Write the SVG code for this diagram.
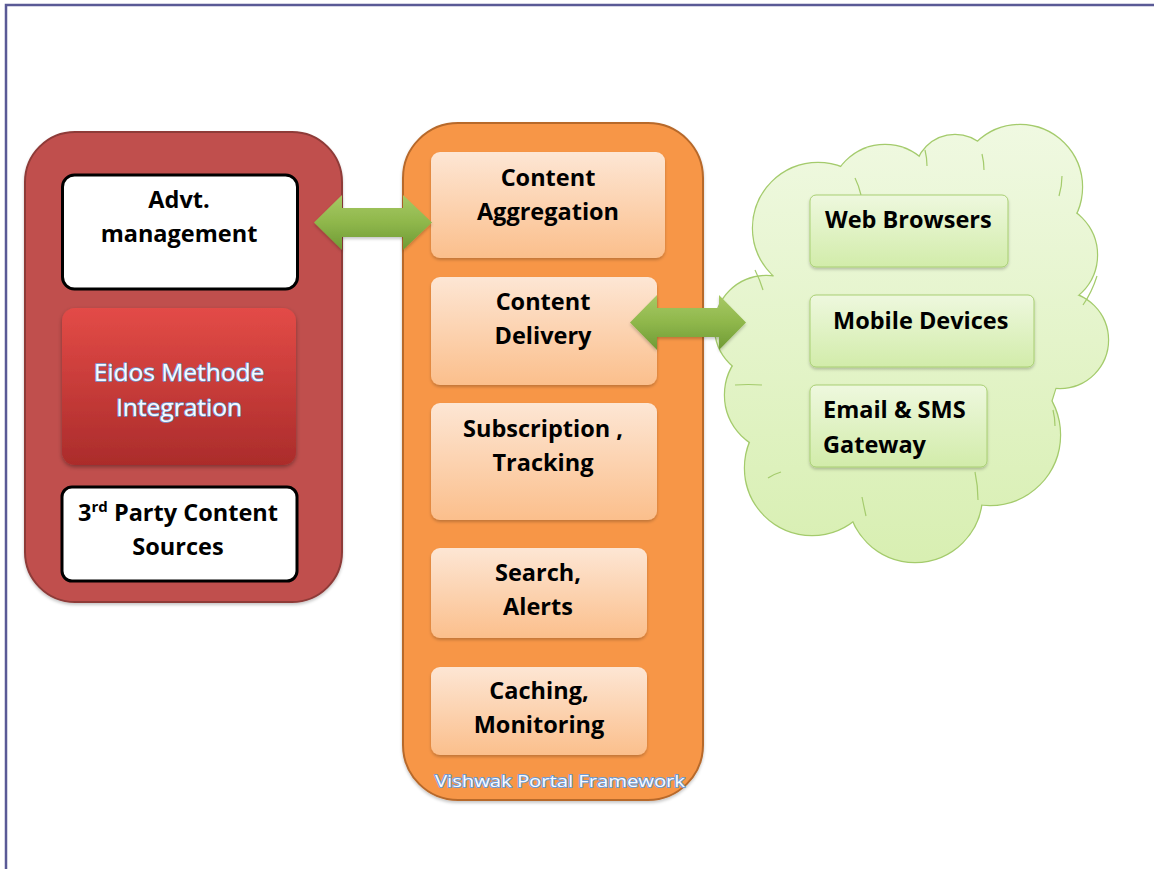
<svg xmlns="http://www.w3.org/2000/svg" width="1154" height="869" viewBox="0 0 1154 869">
<defs>
  <linearGradient id="gOrangeBox" x1="0" y1="0" x2="0" y2="1">
    <stop offset="0" stop-color="#fde6d4"/>
    <stop offset="1" stop-color="#fbbf8c"/>
  </linearGradient>
  <linearGradient id="gRedBox" x1="0" y1="0" x2="0" y2="1">
    <stop offset="0" stop-color="#e34b47"/>
    <stop offset="1" stop-color="#ab2c2b"/>
  </linearGradient>
  <linearGradient id="gGreenBox" x1="0" y1="0" x2="0" y2="1">
    <stop offset="0" stop-color="#eef8de"/>
    <stop offset="1" stop-color="#d2ecaa"/>
  </linearGradient>
  <linearGradient id="gArrow" x1="0" y1="0" x2="0" y2="1">
    <stop offset="0" stop-color="#a7c964"/>
    <stop offset="0.5" stop-color="#8fb74b"/>
    <stop offset="1" stop-color="#6f9a35"/>
  </linearGradient>
  <linearGradient id="gCloud" gradientUnits="userSpaceOnUse" x1="0" y1="120" x2="0" y2="560">
    <stop offset="0" stop-color="#f0f9e2"/>
    <stop offset="1" stop-color="#d8efb2"/>
  </linearGradient>
  <filter id="shadow" x="-10%" y="-10%" width="120%" height="130%">
    <feDropShadow dx="0" dy="2" stdDeviation="2" flood-color="#000" flood-opacity="0.35"/>
  </filter>
  <filter id="shadowSoft" x="-10%" y="-10%" width="120%" height="130%">
    <feDropShadow dx="0" dy="2" stdDeviation="1.5" flood-color="#000" flood-opacity="0.22"/>
  </filter>
  <g id="cloudShapes">
    <circle cx="818" cy="228" r="65"/>
    <circle cx="885" cy="200" r="55"/>
    <circle cx="955" cy="175" r="40"/>
    <circle cx="1020" cy="187" r="62"/>
    <circle cx="1045" cy="255" r="52"/>
    <circle cx="1060" cy="340" r="48"/>
    <circle cx="990" cy="435" r="70"/>
    <circle cx="915" cy="495" r="67"/>
    <circle cx="812" cy="468" r="67"/>
    <circle cx="782" cy="395" r="57"/>
    <circle cx="766" cy="327" r="51"/>
    <ellipse cx="912" cy="340" rx="150" ry="165"/>
  </g>
  <style>
    .lbl { font-family: "Open Sans", "Liberation Sans", sans-serif; font-weight: 700; font-size: 23.5px; fill: #000; text-anchor: middle; }
    .lblL { font-family: "Open Sans", "Liberation Sans", sans-serif; font-weight: 700; font-size: 23.5px; fill: #000; }
    .obox { fill: url(#gOrangeBox); filter: url(#shadowSoft); }
    .wbox { fill: #fff; stroke: #000; stroke-width: 3; }
    .gbox { fill: url(#gGreenBox); stroke: #a8cf72; stroke-width: 1; filter: url(#shadowSoft); }
    .arrow { fill: url(#gArrow); filter: url(#shadowSoft); }
    .glow { font-family: "Open Sans", "Liberation Sans", sans-serif; text-anchor: middle; fill: #f8fbff; stroke: #6f9ad3; paint-order: stroke; stroke-linejoin: round; }
    .cloudline { fill: none; stroke: #a4cb6c; stroke-width: 1.2; }
  </style>
</defs>

<rect x="0" y="0" width="1154" height="869" fill="#fff"/>
<!-- frame -->
<path d="M6,869 L6,5 L1154,5" fill="none" stroke="#5a5a96" stroke-width="2.5"/>

<!-- left container -->
<g id="left-container">
  <rect x="25" y="132" width="317" height="470" rx="50" fill="#c0504d" stroke="#8e3b39" stroke-width="2" filter="url(#shadowSoft)"/>
</g>
<g id="advt">
  <rect class="wbox" x="62.5" y="175" width="235" height="114" rx="12"/>
  <text class="lbl" x="179" y="208">Advt.</text>
  <text class="lbl" x="179" y="242">management</text>
</g>
<g id="eidos">
  <rect x="62" y="308" width="234" height="157" rx="13" fill="url(#gRedBox)" filter="url(#shadow)"/>
  <text class="glow" x="179" y="381" font-size="24.5" stroke-width="1.6">Eidos Methode</text>
  <text class="glow" x="179" y="416" font-size="24.5" stroke-width="1.6">Integration</text>
</g>
<g id="third-party">
  <rect class="wbox" x="62" y="487" width="235" height="94" rx="10"/>
  <text class="lbl" x="178" y="521">3<tspan font-size="15" dy="-9">rd</tspan><tspan dy="9"> Party Content</tspan></text>
  <text class="lbl" x="178" y="555">Sources</text>
</g>

<!-- middle container -->
<g id="portal-framework">
  <rect x="403" y="123" width="300" height="677" rx="55" fill="#f79646" stroke="#b7692c" stroke-width="2" filter="url(#shadowSoft)"/>
  <text class="glow" x="560" y="787" font-size="17" stroke-width="2" textLength="250" lengthAdjust="spacingAndGlyphs">Vishwak Portal Framework</text>
</g>
<g id="content-aggregation">
  <rect class="obox" x="431" y="152" width="234" height="106" rx="9"/>
  <text class="lbl" x="548" y="186">Content</text>
  <text class="lbl" x="548" y="220">Aggregation</text>
</g>
<g id="content-delivery">
  <rect class="obox" x="431" y="277" width="226" height="108" rx="9"/>
  <text class="lbl" x="543" y="310">Content</text>
  <text class="lbl" x="543" y="344">Delivery</text>
</g>
<g id="subscription">
  <rect class="obox" x="431" y="403" width="226" height="117" rx="9"/>
  <text class="lbl" x="543" y="437">Subscription ,</text>
  <text class="lbl" x="543" y="471">Tracking</text>
</g>
<g id="search">
  <rect class="obox" x="431" y="548" width="216" height="90" rx="9"/>
  <text class="lbl" x="538" y="581">Search,</text>
  <text class="lbl" x="538" y="615">Alerts</text>
</g>
<g id="caching">
  <rect class="obox" x="431" y="667" width="216" height="88" rx="9"/>
  <text class="lbl" x="539" y="699">Caching,</text>
  <text class="lbl" x="539" y="733">Monitoring</text>
</g>

<!-- cloud -->
<g id="clients-cloud">
  <use href="#cloudShapes" fill="none" stroke="#a4cb6c" stroke-width="2.4"/>
  <use href="#cloudShapes" fill="url(#gCloud)" stroke="none"/>
  <path class="cloudline" d="M755,270 Q760,280 763,290"/>
  <path class="cloudline" d="M855,178 Q859,186 861,195"/>
  <path class="cloudline" d="M925,150 Q927,158 927,166"/>
  <path class="cloudline" d="M982,154 Q984,162 984,170"/>
  <path class="cloudline" d="M1062,176 Q1062,186 1059,196"/>
  <path class="cloudline" d="M1097,276 Q1092,292 1083,305"/>
  <path class="cloudline" d="M1055,426 Q1055,418 1053,410"/>
  <path class="cloudline" d="M975,472 Q978,486 978,500"/>
  <path class="cloudline" d="M862,497 Q864,507 866,516"/>
  <path class="cloudline" d="M781,472 Q774,474 768,478"/>
  <path class="cloudline" d="M762,385 Q748,384 735,385"/>
</g>
<g id="web-browsers">
  <rect class="gbox" x="810" y="195" width="198" height="72" rx="6"/>
  <text class="lblL" x="825" y="228">Web Browsers</text>
</g>
<g id="mobile-devices">
  <rect class="gbox" x="810" y="295" width="224" height="72" rx="6"/>
  <text class="lblL" x="833" y="329">Mobile Devices</text>
</g>
<g id="email-sms">
  <rect class="gbox" x="810" y="385" width="177" height="82" rx="6"/>
  <text class="lblL" x="823" y="418">Email &amp; SMS</text>
  <text class="lblL" x="823" y="453">Gateway</text>
</g>

<!-- connectors -->
<g id="connectors">
  <path class="arrow" d="M314,222.5 L342,195 L342,208 L403,208 L403,195 L432,222.5 L403,250 L403,237 L342,237 L342,250 Z"/>
  <path class="arrow" d="M630,322.5 L657,295 L657,308 L719,308 L719,295 L746,322.5 L719,350 L719,337 L657,337 L657,350 Z"/>
</g>
</svg>
